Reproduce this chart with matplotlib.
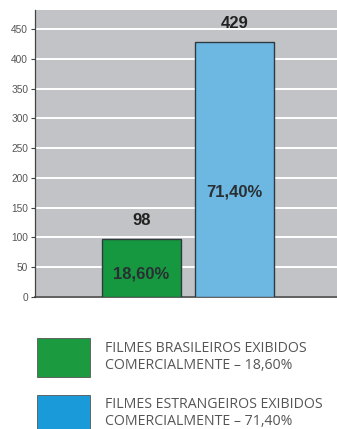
import matplotlib
matplotlib.use("Agg")
import matplotlib.pyplot as plt
from matplotlib.patches import Rectangle

# Data
categories = ["Filmes brasileiros", "Filmes estrangeiros"]
counts = [98, 429]
shares = ["18,60%", "71,40%"]
bar_colors = ["#15983f", "#6cb8e2"]
legend_colors = ["#1c9a3f", "#1a9ad8"]
legend_labels = [
    "FILMES BRASILEIROS EXIBIDOS\nCOMERCIALMENTE – 18,60%",
    "FILMES ESTRANGEIROS EXIBIDOS\nCOMERCIALMENTE – 71,40%",
]
yticks = list(range(0, 451, 50))

fig = plt.figure(figsize=(3.37, 4.29), dpi=100)
ax = fig.add_axes([0.104, 0.3077, 0.896, 0.669])
ax.set_facecolor("#c2c3c7")

x = list(range(len(categories)))
ax.bar(x, counts, width=0.85, color=bar_colors, edgecolor="#2f3a3f",
       linewidth=1.0, zorder=3)

ax.set_ylim(0, 482)
ax.set_xlim(-1.145, 2.10)
ax.set_yticks(yticks)
ax.set_yticklabels([str(t) for t in yticks], fontsize=7.3, color="#555555",
                   family="Liberation Sans")
ax.set_xticks([])
ax.yaxis.grid(True, color="white", linewidth=1.4, zorder=1)
ax.set_axisbelow(True)
ax.tick_params(axis="y", length=3, width=0.8, color="#444444", pad=2)

for s in ["top", "right"]:
    ax.spines[s].set_visible(False)
ax.spines["left"].set_color("#444444")
ax.spines["bottom"].set_color("#444444")
ax.spines["left"].set_linewidth(0.9)
ax.spines["bottom"].set_linewidth(1.2)

# value labels above bars and share labels inside
for xi, c in zip(x, counts):
    ax.text(xi, c + 31, str(c), ha="center", va="center", fontsize=12,
            fontweight="bold", color="#222222", family="Liberation Sans",
            zorder=4)
share_y = [counts[0] * 0.39, counts[1] * 0.41]
for xi, yv, s in zip(x, share_y, shares):
    ax.text(xi, yv, s, ha="center", va="center", fontsize=12,
            fontweight="bold", color="#2a2f33", family="Liberation Sans",
            zorder=4)

# legend drawn in figure pixel space
H = 429
W = 337
boxes = [(37, 338, 53, 39), (37, 395, 53, 39)]
text_y = [357, 413]
for (bx, by, bw, bh), col, lab, ty in zip(boxes, legend_colors, legend_labels, text_y):
    fig.patches.append(Rectangle((bx / W, 1 - (by + bh) / H), bw / W, bh / H,
                                 transform=fig.transFigure, facecolor=col,
                                 edgecolor="#555555", linewidth=0.6))
    fig.text(105 / W, 1 - ty / H, lab, ha="left", va="center", fontsize=10.2,
             color="#555555", family="Open Sans", linespacing=1.1)

fig.savefig("out.png", dpi=100)
